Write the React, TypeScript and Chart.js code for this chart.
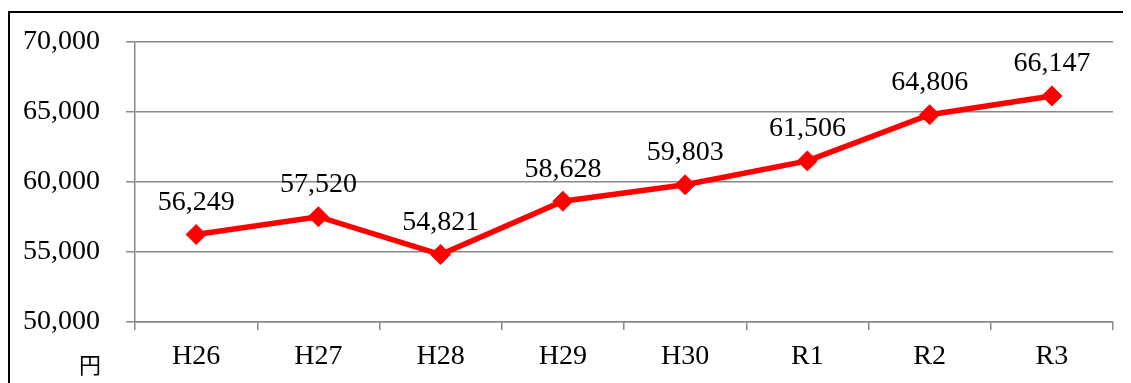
import React, { useEffect, useRef } from "react";
import { Chart, registerables } from "chart.js";

Chart.register(...registerables);

const categories = ["H26", "H27", "H28", "H29", "H30", "R1", "R2", "R3"];
const values = [56249, 57520, 54821, 58628, 59803, 61506, 64806, 66147];
const yTicks = [50000, 55000, 60000, 65000, 70000];
const unitLabel = "円";

const SERIF = '"Liberation Serif", "Times New Roman", serif';
const GRID = "#888888";

const fmt = (v: number) => v.toLocaleString("en-US");

const labelPlugin = {
  id: "pointLabels",
  afterDatasetsDraw(chart: any) {
    const ctx = chart.ctx;
    const meta = chart.getDatasetMeta(0);
    ctx.save();
    ctx.font = `28px ${SERIF}`;
    ctx.fillStyle = "#000";
    ctx.textAlign = "center";
    ctx.textBaseline = "middle";
    meta.data.forEach((pt: any, i: number) => {
      ctx.fillText(fmt(values[i]), pt.x, pt.y - 32);
    });
    ctx.restore();
  },
};

const unitPlugin = {
  id: "unitLabel",
  afterDraw(chart: any) {
    const ctx = chart.ctx;
    const area = chart.chartArea;
    ctx.save();
    ctx.font = `22px "Noto Sans CJK JP", sans-serif`;
    ctx.fillStyle = "#000";
    ctx.textAlign = "center";
    ctx.textBaseline = "middle";
    ctx.fillText(unitLabel, area.left - 45, area.bottom + 43);
    ctx.restore();
  },
};

export default function App() {
  const ref = useRef<HTMLCanvasElement | null>(null);

  useEffect(() => {
    if (!ref.current) return;
    const chart = new Chart(ref.current, {
      type: "line",
      data: {
        labels: categories,
        datasets: [
          {
            data: values,
            borderColor: "#FF0000",
            backgroundColor: "#FF0000",
            borderWidth: 5.5,
            pointStyle: "rectRot",
            pointRadius: 10,
            pointBorderWidth: 1,
            pointBackgroundColor: "#FF0000",
            pointBorderColor: "#FF0000",
            tension: 0,
          },
        ],
      },
      options: {
        animation: false,
        responsive: false,
        maintainAspectRatio: false,
        layout: { padding: { left: 0, right: 18, top: 34, bottom: 0 } },
        plugins: {
          legend: { display: false },
          tooltip: { enabled: false },
        },
        scales: {
          x: {
            type: "category",
            offset: true,
            grid: {
              display: true,
              drawOnChartArea: false,
              drawTicks: true,
              tickLength: 8,
              offset: true,
              color: GRID,
              lineWidth: 1.5,
            },
            border: { display: true, color: GRID, width: 1.5 },
            ticks: {
              color: "#000",
              font: { family: SERIF, size: 28 },
              padding: 10,
              maxRotation: 0,
              autoSkip: false,
            },
            afterFit: (s: any) => {
              s.height = 61;
              s.paddingLeft = 0;
              s.paddingRight = 0;
            },
          },
          y: {
            min: 50000,
            max: 70000,
            afterBuildTicks: (s: any) => {
              s.ticks = yTicks.map((v) => ({ value: v }));
            },
            grid: {
              color: GRID,
              lineWidth: 1.5,
              tickLength: 9,
              drawTicks: true,
            },
            border: { display: true, color: GRID, width: 1.5 },
            ticks: {
              color: "#000",
              font: { family: SERIF, size: 28 },
              padding: 26,
              callback: (v: any) => fmt(Number(v)),
            },
            afterFit: (s: any) => {
              s.width = 127;
              s.paddingTop = 0;
              s.paddingBottom = 0;
            },
          },
        },
      },
      plugins: [labelPlugin, unitPlugin],
    });
    return () => chart.destroy();
  }, []);

  return (
    <div
      style={{
        position: "relative",
        width: 1123,
        height: 375,
        overflow: "hidden",
        background: "#fff",
      }}
    >
      <div
        style={{
          position: "absolute",
          left: 0,
          top: 3,
          width: 1200,
          height: 500,
          border: "2px solid #000",
          boxSizing: "border-box",
        }}
      />
      <canvas
        ref={ref}
        width={1123}
        height={375}
        style={{ position: "absolute", left: 0, top: 0, width: 1123, height: 375 }}
      />
    </div>
  );
}
